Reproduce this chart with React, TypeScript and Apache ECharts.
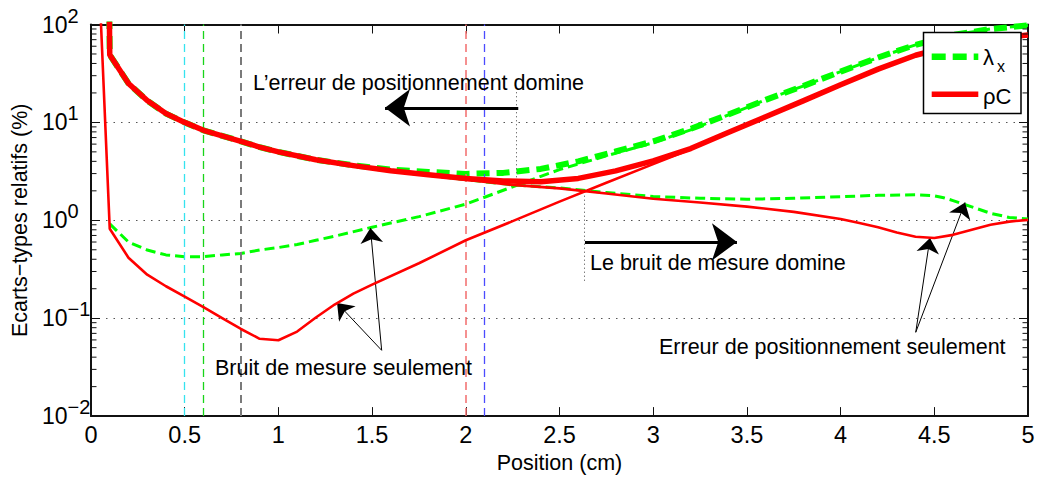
import React, { useEffect, useRef } from "react";
import * as echarts from "echarts";

// ---------------- data ----------------
// total standard deviations (thick curves)
const totalX = [0.095, 0.1, 0.2, 0.3, 0.4, 0.5, 0.6, 0.7, 0.8, 0.9, 1.0, 1.2, 1.4, 1.6, 1.8, 2.0, 2.2, 2.4, 2.6, 2.8, 3.0, 3.2, 3.4, 3.6, 3.8, 4.0, 4.2, 4.4, 4.6, 4.8, 5.0];
const rhoCTotal = [500, 49, 25, 16.7, 12.3, 10, 8.3, 7.3, 6.4, 5.6, 5.0, 4.15, 3.62, 3.2, 2.92, 2.67, 2.52, 2.48, 2.68, 3.2, 4.05, 5.4, 7.9, 11.4, 16.6, 24.2, 35, 48.5, 61, 71, 78];
const lambdaTotal = [500, 49, 25, 16.7, 12.3, 10, 8.3, 7.3, 6.4, 5.6, 5.0, 4.15, 3.65, 3.3, 3.12, 2.98, 3.05, 3.35, 4.0, 5.05, 6.4, 8.6, 12.0, 17, 23.5, 33, 46, 62, 78, 90, 98];

// measurement noise only
const rhoCMeasX = [0.04, 0.1, 0.2, 0.3, 0.4, 0.5, 0.6, 0.7, 0.8, 0.9, 1.0, 1.1, 1.2, 1.3, 1.4, 1.5, 1.75, 2.0, 2.25, 2.5, 2.75, 3.0, 3.2, 3.4, 3.6, 3.8, 4.0, 4.2, 4.4, 4.6, 4.8, 5.0];
const rhoCMeas = [400, 0.82, 0.415, 0.278, 0.212, 0.166, 0.13, 0.1, 0.0776, 0.0616, 0.0596, 0.073, 0.1016, 0.138, 0.178, 0.22, 0.364, 0.625, 0.98, 1.55, 2.42, 3.75, 5.3, 7.9, 11.4, 16.6, 24.2, 35, 48.5, 61, 71, 78];
const lambdaMeasX = [0.1, 0.2, 0.3, 0.4, 0.5, 0.6, 0.7, 0.8, 0.9, 1.0, 1.1, 1.2, 1.3, 1.5, 1.75, 2.0, 2.25, 2.5, 2.75, 3.0, 3.2, 3.4, 3.6, 3.8, 4.0, 4.2, 4.4, 4.6, 4.8, 5.0];
const lambdaMeas = [0.92, 0.6, 0.497, 0.443, 0.425, 0.425, 0.443, 0.459, 0.497, 0.527, 0.565, 0.625, 0.687, 0.85, 1.09, 1.46, 2.2, 3.3, 4.55, 6.2, 8.4, 11.9, 17, 23.5, 33, 46, 62, 78, 90, 98];

// positioning error only
const rhoCPosX = [0.095, 0.1, 0.2, 0.3, 0.4, 0.5, 0.6, 0.7, 0.8, 0.9, 1.0, 1.2, 1.4, 1.6, 1.8, 2.0, 2.25, 2.5, 2.75, 3.0, 3.25, 3.5, 3.75, 4.0, 4.1, 4.2, 4.3, 4.4, 4.5, 4.6, 4.7, 4.8, 4.9, 5.0];
const rhoCPos = [500, 49, 25, 16.7, 12.3, 10, 8.3, 7.3, 6.4, 5.6, 5.0, 4.15, 3.6, 3.18, 2.88, 2.6, 2.3, 2.12, 1.88, 1.66, 1.52, 1.38, 1.22, 1.03, 0.94, 0.85, 0.75, 0.68, 0.66, 0.71, 0.8, 0.9, 0.97, 1.01];
const lambdaPosX = [0.095, 0.1, 0.2, 0.3, 0.4, 0.5, 0.6, 0.7, 0.8, 0.9, 1.0, 1.2, 1.4, 1.6, 1.8, 2.0, 2.25, 2.5, 2.75, 3.0, 3.25, 3.5, 3.75, 4.0, 4.2, 4.4, 4.5, 4.55, 4.6, 4.7, 4.8, 4.9, 5.0];
const lambdaPos = [500, 49, 25, 16.7, 12.3, 10, 8.3, 7.3, 6.4, 5.6, 5.0, 4.15, 3.6, 3.18, 2.88, 2.6, 2.3, 2.14, 1.92, 1.75, 1.68, 1.64, 1.68, 1.74, 1.8, 1.82, 1.78, 1.7, 1.59, 1.37, 1.18, 1.07, 1.03];

// vertical reference lines
const refLinesX = [0.5, 0.6, 0.8, 2.0, 2.1];
const refLineColors = ["#35e3ef", "#19d419", "#7a7a7a", "#f26c6c", "#4b4bff"];
const refLineWidths = [1.3, 1.3, 2, 1.5, 1.3];

// log minor ticks
const minorMantissas = [2, 3, 4, 5, 6, 7, 8, 9];
const decades = [0.01, 0.1, 1, 10];

// annotations (data coordinates: tail -> tip)
const thickArrows = [
  [[2.28, 14.1], [1.569, 14.1]],
  [[2.636, 0.602], [3.447, 0.602]],
];
const thinArrows = [
  [[1.551, 0.047], [1.491, 0.832]],
  [[1.551, 0.047], [1.313, 0.143]],
  [[4.401, 0.0718], [4.477, 0.66]],
  [[4.401, 0.0718], [4.664, 1.52]],
];
const dottedGuides = [
  [[2.27, 20.3], [2.27, 2.25]],
  [[2.631, 1.96], [2.631, 0.227]],
];

const annotationTexts = [
  { text: "L\u2019erreur de positionnement domine", x: 253, y: 83 },
  { text: "Le bruit de mesure domine", x: 590, y: 263 },
  { text: "Bruit de mesure seulement", x: 215, y: 368 },
  { text: "Erreur de positionnement seulement", x: 659, y: 347 },
];

const FONT = "'Liberation Sans', Arial, Helvetica, sans-serif";
const zip = (xs: number[], ys: number[]) => xs.map((x, i) => [x, ys[i]]);

export default function App() {
  const ref = useRef<HTMLDivElement>(null);

  useEffect(() => {
    if (!ref.current) return;
    const chart = echarts.init(ref.current, undefined, { renderer: "svg" });

    const lineSeries = (
      name: string,
      data: number[][],
      color: string,
      width: number,
      type: any,
      z: number
    ) => ({
      type: "line",
      name,
      data,
      symbol: "none",
      showSymbol: false,
      clip: true,
      silent: true,
      z,
      smooth: false,
      lineStyle: { color, width, type, cap: "butt", join: "round" },
      itemStyle: { color },
      emphasis: { disabled: true },
    });

    const minorTickValues: number[] = [];
    decades.forEach((d) => minorMantissas.forEach((m) => minorTickValues.push(m * d)));

    const arrowLines: any[] = [];
    dottedGuides.forEach(([a, b]) =>
      arrowLines.push([
        { coord: a, symbol: "none", lineStyle: { color: "#444", width: 1, type: [1, 3] } },
        { coord: b, symbol: "none" },
      ])
    );
    thickArrows.forEach(([a, b]) =>
      arrowLines.push([
        { coord: a, symbol: "none", lineStyle: { color: "#000", width: 3, type: "solid" } },
        { coord: b, symbol: "arrow", symbolSize: [28, 25] },
      ])
    );
    thinArrows.forEach(([a, b]) =>
      arrowLines.push([
        { coord: a, symbol: "none", lineStyle: { color: "#000", width: 1, type: "solid" } },
        { coord: b, symbol: "arrow", symbolSize: [17, 15] },
      ])
    );

    const option: any = {
      animation: false,
      textStyle: { fontFamily: FONT },
      grid: { left: 91, right: 12, top: 24.5, bottom: 57.3, containLabel: false },
      xAxis: [
        {
          type: "value",
          min: 0,
          max: 5,
          interval: 0.5,
          name: "Position (cm)",
          nameLocation: "middle",
          nameGap: 34,
          nameTextStyle: { fontSize: 21.5, color: "#000", fontFamily: FONT },
          axisLine: { show: true, onZero: false, lineStyle: { color: "#111", width: 2 } },
          axisTick: { show: true, inside: true, length: 9, lineStyle: { color: "#111", width: 1 } },
          axisLabel: { fontSize: 23.5, color: "#000", margin: 7, fontFamily: FONT },
          splitLine: { show: false },
        },
        {
          type: "value",
          position: "top",
          min: 0,
          max: 5,
          interval: 0.5,
          axisLine: { show: true, onZero: false, lineStyle: { color: "#111", width: 2 } },
          axisTick: { show: true, inside: true, length: 9, lineStyle: { color: "#111", width: 1 } },
          axisLabel: { show: false },
          splitLine: { show: false },
        },
      ],
      yAxis: [
        {
          type: "log",
          logBase: 10,
          min: 0.01,
          max: 100,
          splitNumber: 4,
          name: "Ecarts\u2212types relatifs (%)",
          nameLocation: "middle",
          nameGap: 58,
          nameTextStyle: { fontSize: 21.5, color: "#000", fontFamily: FONT },
          axisLine: { show: true, onZero: false, lineStyle: { color: "#111", width: 2 } },
          axisTick: { show: true, inside: true, length: 9, lineStyle: { color: "#111", width: 1 } },
          axisLabel: {
            color: "#000",
            margin: 49,
            align: "left",
            formatter: (v: number) => {
              const e = Math.round(Math.log10(v));
              return `{b|10}{s|${e < 0 ? "\u2212" + -e : e}}`;
            },
            rich: {
              b: { fontSize: 23, fontFamily: FONT, color: "#000" },
              s: { fontSize: 20, fontFamily: FONT, color: "#000", padding: [0, 0, 18, 0] },
            },
          },
          splitLine: { show: true, lineStyle: { color: "#555", width: 1, type: [1.5, 6] } },
        },
        {
          type: "log",
          logBase: 10,
          min: 0.01,
          max: 100,
          splitNumber: 4,
          position: "right",
          axisLine: { show: true, onZero: false, lineStyle: { color: "#111", width: 2 } },
          axisTick: { show: true, inside: true, length: 9, lineStyle: { color: "#111", width: 1 } },
          axisLabel: { show: false },
          splitLine: { show: false },
        },
      ],
      series: [
        {
          type: "line",
          name: "refs",
          data: [],
          z: 1,
          silent: true,
          markLine: {
            silent: true,
            animation: false,
            symbol: ["none", "none"],
            label: { show: false },
            emphasis: { disabled: true },
            data: refLinesX.map((x, i) => ({
              xAxis: x,
              lineStyle: { color: refLineColors[i], width: refLineWidths[i], type: [8, 5] },
            })),
          },
        },
        lineSeries("lambdaPos", zip(lambdaPosX, lambdaPos), "#00ff00", 3, [10, 5], 2),
        lineSeries("lambdaMeas", zip(lambdaMeasX, lambdaMeas), "#00ff00", 3, [10, 5], 3),
        lineSeries("\u03bbx", zip(totalX, lambdaTotal), "#00ff00", 6, [13, 7], 4),
        lineSeries("rhoCPos", zip(rhoCPosX, rhoCPos), "#ff0000", 2.6, "solid", 5),
        lineSeries("rhoCMeas", zip(rhoCMeasX, rhoCMeas), "#ff0000", 2.6, "solid", 6),
        lineSeries("\u03c1C", zip(totalX, rhoCTotal), "#ff0000", 5.5, "solid", 7),
        {
          type: "line",
          name: "annotations",
          data: [],
          z: 10,
          silent: true,
          markLine: {
            silent: true,
            animation: false,
            symbol: ["none", "none"],
            label: { show: false },
            emphasis: { disabled: true },
            lineStyle: { type: "solid" },
            data: arrowLines,
          },
        },
        {
          type: "custom",
          name: "minorTicks",
          silent: true,
          z: 20,
          data: minorTickValues.map((v) => [0, v]),
          encode: { x: 0, y: 1 },
          renderItem: (params: any, api: any) => {
            const cs = params.coordSys;
            const p = api.coord([0, api.value(1)]);
            const st = { stroke: "#111", lineWidth: 1 };
            return {
              type: "group",
              children: [
                { type: "line", shape: { x1: cs.x, y1: p[1], x2: cs.x + 5.5, y2: p[1] }, style: st },
                { type: "line", shape: { x1: cs.x + cs.width - 5.5, y1: p[1], x2: cs.x + cs.width, y2: p[1] }, style: st },
              ],
            };
          },
        },
      ],
      graphic: [
        ...annotationTexts.map((t) => ({
          type: "text",
          x: t.x,
          y: t.y,
          z: 50,
          silent: true,
          style: {
            text: t.text,
            fontSize: 21.5,
            fontFamily: FONT,
            fill: "#000",
            align: "left",
            verticalAlign: "middle",
            textAlign: "left",
            textVerticalAlign: "middle",
          },
        })),
        {
          type: "rect",
          z: 100,
          silent: true,
          shape: { x: 923.5, y: 32.5, width: 97.5, height: 81 },
          style: { fill: "#fff", stroke: "#000", lineWidth: 1.5 },
        },
        {
          type: "line",
          z: 101,
          silent: true,
          shape: { x1: 931.7, y1: 56.7, x2: 978.3, y2: 56.7 },
          style: { stroke: "#00ff00", lineWidth: 6.5, lineDash: [14, 7] },
        },
        {
          type: "line",
          z: 101,
          silent: true,
          shape: { x1: 931.7, y1: 94.3, x2: 978.3, y2: 94.3 },
          style: { stroke: "#ff0000", lineWidth: 5.5 },
        },
        {
          type: "text",
          z: 101,
          x: 983,
          y: 57,
          silent: true,
          style: { text: "\u03bb", fontSize: 22, fontFamily: FONT, fill: "#000", align: "left", verticalAlign: "middle", textAlign: "left", textVerticalAlign: "middle" },
        },
        {
          type: "text",
          z: 101,
          x: 997,
          y: 66,
          silent: true,
          style: { text: "x", fontSize: 16, fontFamily: FONT, fill: "#000", align: "left", verticalAlign: "middle", textAlign: "left", textVerticalAlign: "middle" },
        },
        {
          type: "text",
          z: 101,
          x: 983,
          y: 96,
          silent: true,
          style: { text: "\u03c1C", fontSize: 22, fontFamily: FONT, fill: "#000", align: "left", verticalAlign: "middle", textAlign: "left", textVerticalAlign: "middle" },
        },
      ],
    };

    chart.setOption(option);
    return () => chart.dispose();
  }, []);

  return (
    <div
      ref={ref}
      style={{ position: "fixed", left: 0, top: 0, width: 1040, height: 479, background: "#fff" }}
    />
  );
}
